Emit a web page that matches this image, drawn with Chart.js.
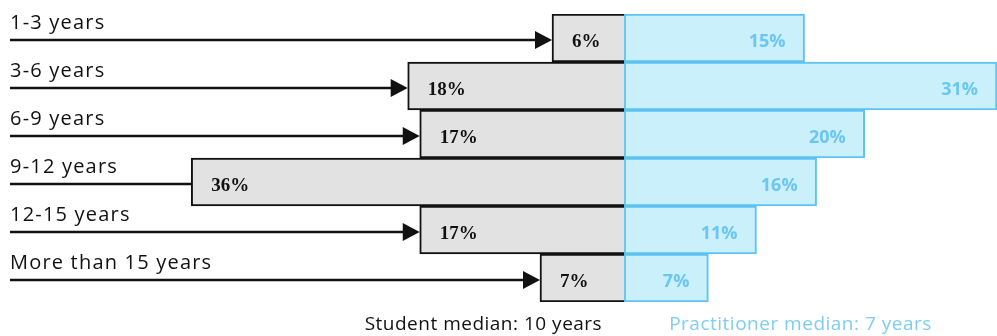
<!DOCTYPE html>
<html lang="en">
<head>
    <meta charset="UTF-8">
    <title>Years of experience: students vs practitioners</title>
    <script src="https://cdn.jsdelivr.net/npm/chart.js"></script>
    <style>
        body { margin: 0; background: #fff; }
        #wrap { position: relative; width: 997px; height: 336px; }
    </style>
</head>
<body>
    <div id="wrap"><canvas id="yearsChart"></canvas></div>

    <script>
        const categories = ['1-3 years', '3-6 years', '6-9 years', '9-12 years', '12-15 years', 'More than 15 years'];
        const students = [6, 18, 17, 36, 17, 7];
        const practitioners = [15, 31, 20, 16, 11, 7];
        const studentNote = 'Student median: 10 years';
        const practitionerNote = 'Practitioner median: 7 years';

        const blue = '#5cc3f3';

        // labels, arrows and value text drawn on top of the bars
        const annotate = {
            id: 'annotate',
            afterDatasetsDraw(chart) {
                const ctx = chart.ctx;
                const xs = chart.scales.x;
                const ys = chart.scales.y;
                const zero = xs.getPixelForValue(0);
                ctx.save();

                categories.forEach((cat, i) => {
                    const cy = ys.getPixelForValue(i);
                    const lineY = cy + 2;
                    const left = xs.getPixelForValue(-students[i]);
                    const right = xs.getPixelForValue(practitioners[i]);

                    // category text
                    ctx.fillStyle = '#111';
                    ctx.font = '20px "Open Sans"';
                    ctx.letterSpacing = '1.2px';
                    ctx.textAlign = 'left';
                    ctx.textBaseline = 'alphabetic';
                    ctx.fillText(cat, 10, lineY - 11);
                    ctx.letterSpacing = '0px';

                    // arrow line
                    const hasHead = students[i] < 30;
                    const end = hasHead ? left - 14 : left;
                    ctx.strokeStyle = '#111';
                    ctx.lineWidth = 2.5;
                    ctx.beginPath();
                    ctx.moveTo(10, lineY);
                    ctx.lineTo(end, lineY);
                    ctx.stroke();
                    if (hasHead) {
                        ctx.beginPath();
                        ctx.moveTo(left - 17, lineY - 9);
                        ctx.lineTo(left, lineY);
                        ctx.lineTo(left - 17, lineY + 9);
                        ctx.closePath();
                        ctx.fill();
                    }

                    // values
                    ctx.textBaseline = 'middle';
                    ctx.font = 'bold 19px "Liberation Serif"';
                    ctx.fillStyle = '#111';
                    ctx.textAlign = 'left';
                    ctx.fillText(students[i] + '%', left + 20, cy + 4);

                    ctx.font = 'bold 18px "Open Sans"';
                    ctx.fillStyle = '#6cc6f0';
                    ctx.textAlign = 'right';
                    ctx.fillText(practitioners[i] + '%', right - 19, cy + 4);
                });

                // medians under the chart
                ctx.textBaseline = 'middle';
                ctx.font = '19px "Open Sans"';
                ctx.letterSpacing = '0.5px';
                ctx.textAlign = 'right';
                ctx.fillStyle = '#111';
                ctx.fillText(studentNote, zero - 22, 325);
                ctx.textAlign = 'left';
                ctx.fillStyle = '#7fcdf2';
                ctx.fillText(practitionerNote, zero + 45, 325);

                ctx.restore();
            }
        };

        new Chart(document.getElementById('yearsChart'), {
            type: 'bar',
            data: {
                labels: categories,
                datasets: [
                    {
                        label: 'Students',
                        data: students.map(v => -v),
                        backgroundColor: '#e2e2e2',
                        borderColor: '#111',
                        borderWidth: 2,
                        borderSkipped: 'start'
                    },
                    {
                        label: 'Practitioners',
                        data: practitioners,
                        backgroundColor: '#c9f0fb',
                        borderColor: blue,
                        borderWidth: 2,
                        borderSkipped: false
                    }
                ]
            },
            options: {
                indexAxis: 'y',
                responsive: true,
                maintainAspectRatio: false,
                animation: false,
                barPercentage: 1,
                categoryPercentage: 1,
                layout: { padding: { top: 14, bottom: 34, left: 0, right: 0 } },
                plugins: {
                    legend: { display: false },
                    tooltip: { enabled: false }
                },
                scales: {
                    x: { stacked: true, display: false, min: -51.9, max: 31 },
                    y: { stacked: true, display: false }
                }
            },
            plugins: [annotate]
        });
    </script>
</body>
</html>
